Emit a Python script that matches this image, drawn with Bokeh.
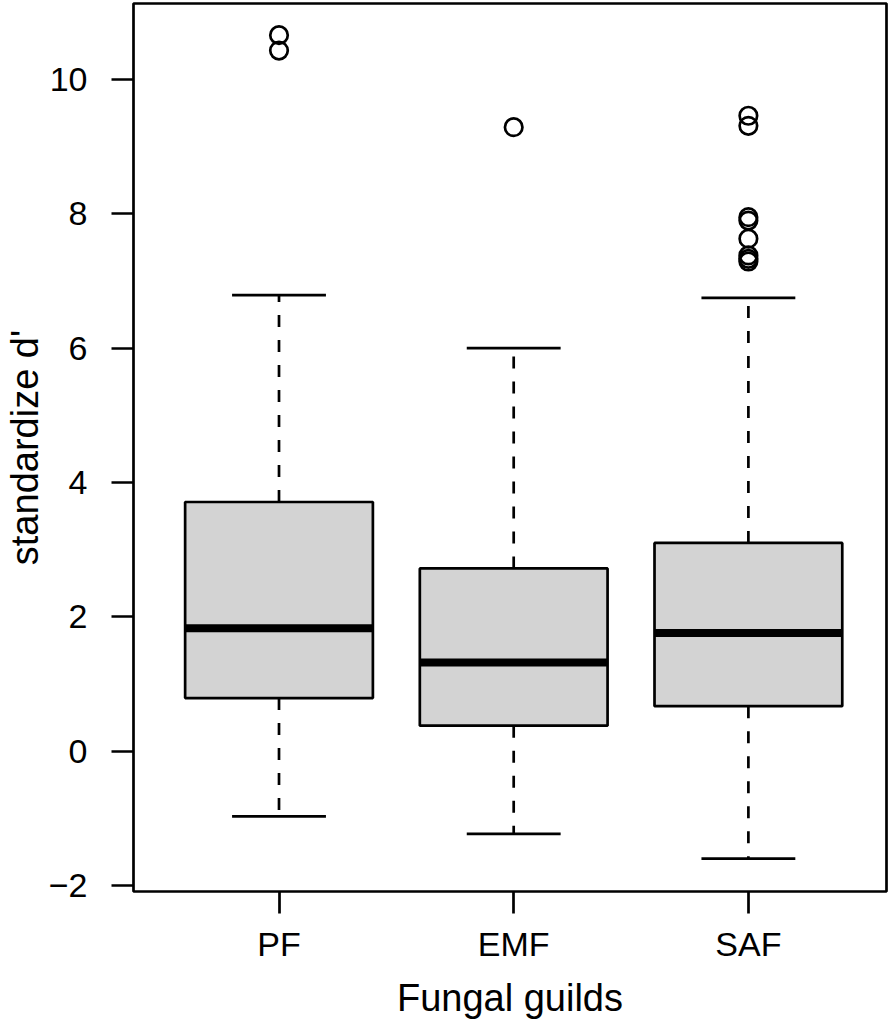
from bokeh.plotting import figure
from bokeh.models import Range1d, FixedTicker, ColumnDataSource
from bokeh.embed import file_html
from bokeh.resources import INLINE

# ---- data ----
guilds = ["PF", "EMF", "SAF"]
whisker_low = [-0.97, -1.23, -1.60]
q1 = [0.79, 0.38, 0.67]
median = [1.83, 1.32, 1.76]
q3 = [3.71, 2.72, 3.10]
whisker_high = [6.79, 6.00, 6.75]
outlier_guild = ["PF", "PF", "EMF", "SAF", "SAF", "SAF", "SAF", "SAF", "SAF", "SAF", "SAF"]
outlier_value = [10.66, 10.43, 9.29, 9.46, 9.31, 7.95, 7.90, 7.63, 7.38, 7.33, 7.29]
y_ticks = [-2, 0, 2, 4, 6, 8, 10]
y_tick_labels = ["\u22122", "0", "2", "4", "6", "8", "10"]

FONT = "Liberation Sans"
LW = 2.7
box_w = 0.8
staple_w = 0.4

pos = [i + 1 for i in range(len(guilds))]
src = ColumnDataSource(dict(
    x=pos,
    left=[p - box_w / 2 for p in pos],
    right=[p + box_w / 2 for p in pos],
    sl=[p - staple_w / 2 for p in pos],
    sr=[p + staple_w / 2 for p in pos],
    lo=whisker_low, q1=q1, med=median, q3=q3, hi=whisker_high,
))
out_src = ColumnDataSource(dict(
    x=[guilds.index(g) + 1 for g in outlier_guild],
    y=outlier_value,
))

p = figure(width=888, height=1024, output_backend="svg", toolbar_location=None,
           x_range=Range1d(0.38, 3.5885), y_range=Range1d(-2.089, 11.131),
           min_border_left=132, min_border_right=2, min_border_top=3, min_border_bottom=133)

p.xgrid.visible = False
p.ygrid.visible = False
p.outline_line_color = "black"
p.outline_line_width = LW
p.background_fill_color = "white"
p.border_fill_color = "white"

# whiskers (dashed)
p.segment(x0="x", y0="q3", x1="x", y1="hi", source=src, line_color="black",
          line_width=LW, line_dash="12 13")
p.segment(x0="x", y0="q1", x1="x", y1="lo", source=src, line_color="black",
          line_width=LW, line_dash="12 13")
# staples
p.segment(x0="sl", y0="hi", x1="sr", y1="hi", source=src, line_color="black", line_width=LW)
p.segment(x0="sl", y0="lo", x1="sr", y1="lo", source=src, line_color="black", line_width=LW)
# boxes
p.quad(left="left", right="right", bottom="q1", top="q3", source=src,
       fill_color="#d3d3d3", line_color="black", line_width=LW)
# medians
p.segment(x0="left", y0="med", x1="right", y1="med", source=src, line_color="black",
          line_width=8, line_cap="butt")
# outliers
p.scatter(x="x", y="y", source=out_src, marker="circle", size=17.5,
          fill_color=None, line_color="black", line_width=LW)

# axes
for ax in (p.xaxis[0], p.yaxis[0]):
    ax.axis_line_color = None
    ax.major_tick_in = 0
    ax.major_tick_out = 22
    ax.major_tick_line_width = LW
    ax.major_tick_line_color = "black"
    ax.minor_tick_line_color = None
    ax.major_label_text_font = FONT
    ax.major_label_text_font_size = "34px"
    ax.major_label_text_color = "black"
    ax.axis_label_text_font = FONT
    ax.axis_label_text_font_size = "38px"
    ax.axis_label_text_font_style = "normal"
    ax.axis_label_text_color = "black"

p.xaxis.ticker = FixedTicker(ticks=pos)
p.xaxis.major_label_overrides = {p_: g for p_, g in zip(pos, guilds)}
p.xaxis.major_label_standoff = 11
p.xaxis.axis_label = "Fungal guilds"
p.xaxis.axis_label_standoff = 11

p.yaxis.ticker = FixedTicker(ticks=y_ticks)
p.yaxis.major_label_overrides = {t: l for t, l in zip(y_ticks, y_tick_labels)}
p.yaxis.major_label_standoff = 24
p.yaxis.axis_label = "standardize d'"
p.yaxis.axis_label_standoff = 0

open("out.html", "w").write(file_html(p, INLINE))
